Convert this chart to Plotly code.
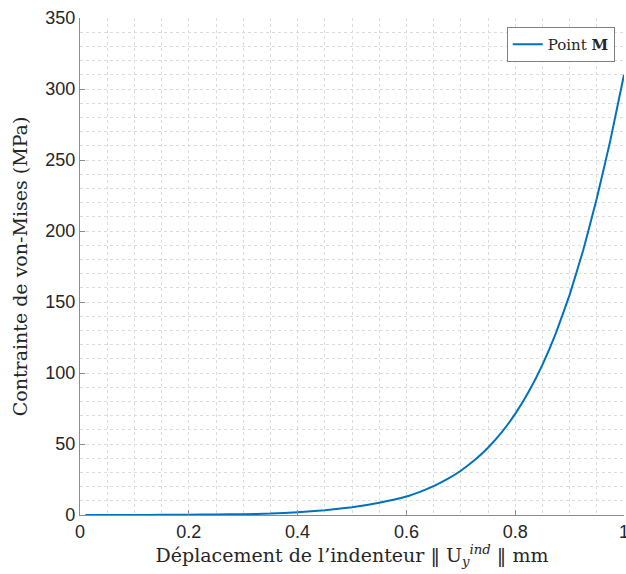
import plotly.graph_objects as go

# Data
displacement = [0.01, 0.05, 0.1, 0.15, 0.2, 0.25, 0.3, 0.35, 0.4, 0.45, 0.5,
                0.55, 0.6, 0.625, 0.65, 0.675, 0.7, 0.725, 0.75, 0.775, 0.8,
                0.825, 0.85, 0.875, 0.9, 0.925, 0.95, 0.975, 1.0]
stress = [0.0, 0.02, 0.05, 0.1, 0.2, 0.35, 0.6, 1.0, 1.9, 3.3, 5.4,
          8.6, 13.0, 16.3, 20.3, 25.2, 31.2, 38.5, 47.4, 58.2, 71.2,
          86.9, 105.7, 128.2, 155.0, 186.5, 223.0, 264.0, 310.0]
series_name = "Point <b>M</b>"
x_ticks = [0, 0.2, 0.4, 0.6, 0.8, 1]
x_tick_labels = ["0", "0.2", "0.4", "0.6", "0.8", "1"]
y_ticks = [0, 50, 100, 150, 200, 250, 300, 350]

serif = "DejaVu Serif, Liberation Serif, serif"
sans = "Liberation Sans, Arial, sans-serif"

fig = go.Figure()
fig.add_trace(go.Scatter(
    x=displacement, y=stress, mode="lines", name=series_name,
    line=dict(color="#0072BD", width=2, shape="spline", smoothing=0.3),
))

grid_col = "#dcdcdc"
axis_common = dict(
    showline=True, linecolor="#8c8c8c", linewidth=1.2,
    ticks="inside", ticklen=5, tickcolor="#8c8c8c",
    showgrid=True, gridcolor=grid_col, griddash="dot", gridwidth=1,
    zeroline=False, mirror=False, automargin=False,
    tickfont=dict(family=sans, size=18, color="#262626"),
    ticklabeloverflow="allow",
)

fig.update_xaxes(
    range=[0, 1], tickvals=x_ticks, ticktext=x_tick_labels,
    minor=dict(dtick=0.05, showgrid=True, gridcolor=grid_col, griddash="dot", gridwidth=1),
    title=dict(text="Déplacement de l’indenteur ‖ U<sub><i>y</i></sub><sup><i>ind</i></sup> ‖ mm",
               font=dict(family=serif, size=19, color="#262626"), standoff=4),
    **axis_common,
)
fig.update_yaxes(
    range=[0, 350], tickvals=y_ticks,
    minor=dict(dtick=10, showgrid=True, gridcolor=grid_col, griddash="dot", gridwidth=1),
    title=dict(text="Contrainte de von-Mises (MPa)",
               font=dict(family=serif, size=19, color="#262626"), standoff=12),
    **axis_common,
)

fig.update_layout(
    width=626, height=574,
    margin=dict(l=80, r=2, t=18, b=59),
    paper_bgcolor="white", plot_bgcolor="white",
    showlegend=True,
    legend=dict(
        x=0.983, y=0.982, xanchor="right", yanchor="top",
        bgcolor="white", bordercolor="#808080", borderwidth=1,
        font=dict(family=serif, size=15, color="#262626"),
        itemwidth=30, tracegroupgap=0,
    ),
)

fig.write_html("out.html", config={"displayModeBar": False},
               post_script="document.body.style.margin='0';")
